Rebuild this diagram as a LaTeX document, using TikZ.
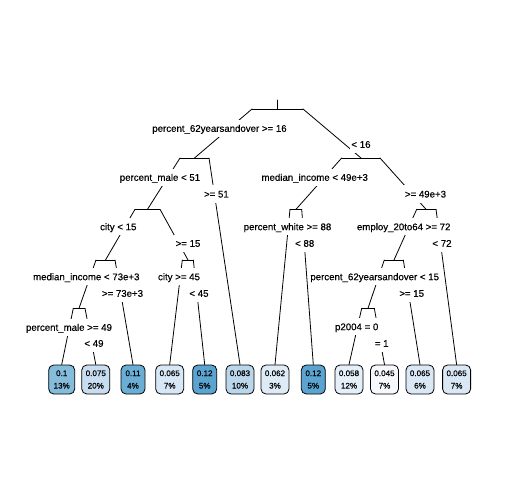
\documentclass[tikz,border=0pt]{standalone}
\usepackage{fontspec}
\setmainfont{Liberation Sans}[FakeBold=0.35]
\definecolor{vA}{HTML}{85BCDC}
\definecolor{vB}{HTML}{C9DDF0}
\definecolor{vC}{HTML}{6AAED6}
\definecolor{vD}{HTML}{D8E7F5}
\definecolor{vE}{HTML}{5BA3D0}
\definecolor{vF}{HTML}{B9D6EA}
\definecolor{vG}{HTML}{DEEBF7}
\definecolor{vH}{HTML}{E4EFF9}
\definecolor{vI}{HTML}{F5F9FE}
\definecolor{vJ}{HTML}{DAE8F5}
\begin{document}
\begin{tikzpicture}[x=1bp,y=-1bp,
  splitlabel/.style={fill=white, inner xsep=1.5bp, inner ysep=0pt,
    text height=7bp, text depth=0bp, minimum height=17bp,
    font=\fontsize{9.7}{11}\selectfont},
  leafbox/.style={draw=black, line width=0.8bp, rounded corners=5bp,
    minimum height=29bp, minimum width=28bp, inner sep=0pt, align=center,
    font=\fontsize{8.1}{12.5}\selectfont},
  branch/.style={line width=0.8bp, line cap=round}]
\useasboundingbox (0,0) rectangle (504,504);

% bar end points of the internal nodes (l = left end, c = centre, r = right end)
\coordinate (top) at (277.5,100);
\coordinate (n1l) at (252,109);   \coordinate (n1c) at (277.5,109); \coordinate (n1r) at (303,109);
\coordinate (n2l) at (180,158);   \coordinate (n2c) at (194.5,158); \coordinate (n2r) at (209,158);
\coordinate (n3l) at (341.7,158); \coordinate (n3c) at (361,158);   \coordinate (n3r) at (380,158);
\coordinate (n4l) at (135,209.3); \coordinate (n4c) at (147.5,209.3); \coordinate (n4r) at (160,209.3);
\coordinate (n5l) at (290,209.3); \coordinate (n5c) at (296,209.3); \coordinate (n5r) at (301.7,209.3);
\coordinate (n6l) at (416.7,209.3); \coordinate (n6c) at (426,209.3); \coordinate (n6r) at (436,209.3);
\coordinate (n7l) at (96,260);    \coordinate (n7c) at (105.5,260); \coordinate (n7r) at (115,260);
\coordinate (n8l) at (182.3,260); \coordinate (n8c) at (188,260);   \coordinate (n8r) at (193.3,260);
\coordinate (n9l) at (73.3,308.3); \coordinate (n9c) at (79,308.3); \coordinate (n9r) at (85,308.3);
\coordinate (n10l) at (384.3,260); \coordinate (n10c) at (394,260); \coordinate (n10r) at (403.3,260);
\coordinate (n11l) at (361.7,308.3); \coordinate (n11c) at (368,308.3); \coordinate (n11r) at (374.3,308.3);

% leaves
\node[leafbox, fill=vA, minimum width=26bp] (L1)  at (61.7,379.5)  {0.1\\13\%};
\node[leafbox, fill=vB] (L2)  at (95.8,379.5)  {0.075\\20\%};
\node[leafbox, fill=vC, minimum width=24bp] (L3)  at (133,379.5)   {0.11\\4\%};
\node[leafbox, fill=vD] (L4)  at (169.7,379.5) {0.065\\7\%};
\node[leafbox, fill=vE, minimum width=24bp] (L5)  at (204.7,379.5) {0.12\\5\%};
\node[leafbox, fill=vF] (L6)  at (240,379.5)   {0.083\\10\%};
\node[leafbox, fill=vG] (L7)  at (275,379.5)   {0.062\\3\%};
\node[leafbox, fill=vE, minimum width=24bp] (L8)  at (313.3,379.5) {0.12\\5\%};
\node[leafbox, fill=vH] (L9)  at (349,379.5)   {0.058\\12\%};
\node[leafbox, fill=vI] (L10) at (384.5,379.5) {0.045\\7\%};
\node[leafbox, fill=vJ] (L11) at (420,379.5)   {0.065\\6\%};
\node[leafbox, fill=vJ] (L12) at (456.6,379.5) {0.065\\7\%};

% bars and branches
\begin{scope}[branch]
  \draw (top) -- (n1c);
  \foreach \n in {n1,n2,n3,n4,n5,n6,n7,n8,n9,n10,n11} \draw (\n l) -- (\n r);
  \draw (n1l) -- (n2c);  \draw (n1r) -- (n3c);
  \draw (n2l) -- (n4c);  \draw (n2r) -- (L6.north);
  \draw (n3l) -- (n5c);  \draw (n3r) -- (n6c);
  \draw (n4l) -- (n7c);  \draw (n4r) -- (n8c);
  \draw (n5l) -- (L7.north); \draw (n5r) -- (L8.north);
  \draw (n6l) -- (n10c); \draw (n6r) -- (L12.north);
  \draw (n7l) -- (n9c);  \draw (n7r) -- (L3.north);
  \draw (n8l) -- (L4.north); \draw (n8r) -- (L5.north);
  \draw (n9l) -- (L1.north); \draw (n9r) -- (L2.north);
  \draw (n10l) -- (n11c); \draw (n10r) -- (L11.north);
  \draw (n11l) -- (L9.north); \draw (n11r) -- (L10.north);
\end{scope}

% split labels
\node[splitlabel] (s1a) at (219.5,128.3) {percent\_62yearsandover >= 16};
\node[splitlabel] (s1b) at (361,144.3) {< 16};
\node[splitlabel] (s2a) at (160,177.3) {percent\_male < 51};
\node[splitlabel] (s2b) at (216.4,194) {>= 51};
\node[splitlabel] (s3a) at (314.7,177.3) {median\_income < 49e+3};
\node[splitlabel] (s3b) at (425.5,194) {>= 49e+3};
\node[splitlabel] (s4a) at (118.3,226.7) {city < 15};
\node[splitlabel] (s4b) at (188,243.3) {>= 15};
\node[splitlabel] (s5a) at (287.5,226.7) {percent\_white >= 88};
\node[splitlabel] (s5b) at (304.7,243.3) {< 88};
\node[splitlabel] (s6a) at (403.7,226.7) {employ\_20to64 >= 72};
\node[splitlabel] (s6b) at (442,243.3) {< 72};
\node[splitlabel] (s7a) at (86.3,276.7) {median\_income < 73e+3};
\node[splitlabel] (s7b) at (122.5,293.3) {>= 73e+3};
\node[splitlabel] (s8a) at (179,276.7) {city >= 45};
\node[splitlabel] (s8b) at (199,293.3) {< 45};
\node[splitlabel] (s9a) at (69,327.3) {percent\_male >= 49};
\node[splitlabel] (s9b) at (94,343.3) {< 49};
\node[splitlabel] (s10a) at (374.7,276.7) {percent\_62yearsandover < 15};
\node[splitlabel] (s10b) at (411.7,293.3) {>= 15};
\node[splitlabel] (s11a) at (356.7,326.7) {p2004 = 0};
\node[splitlabel] (s11b) at (381.7,343.3) {= 1};
\end{tikzpicture}
\end{document}
